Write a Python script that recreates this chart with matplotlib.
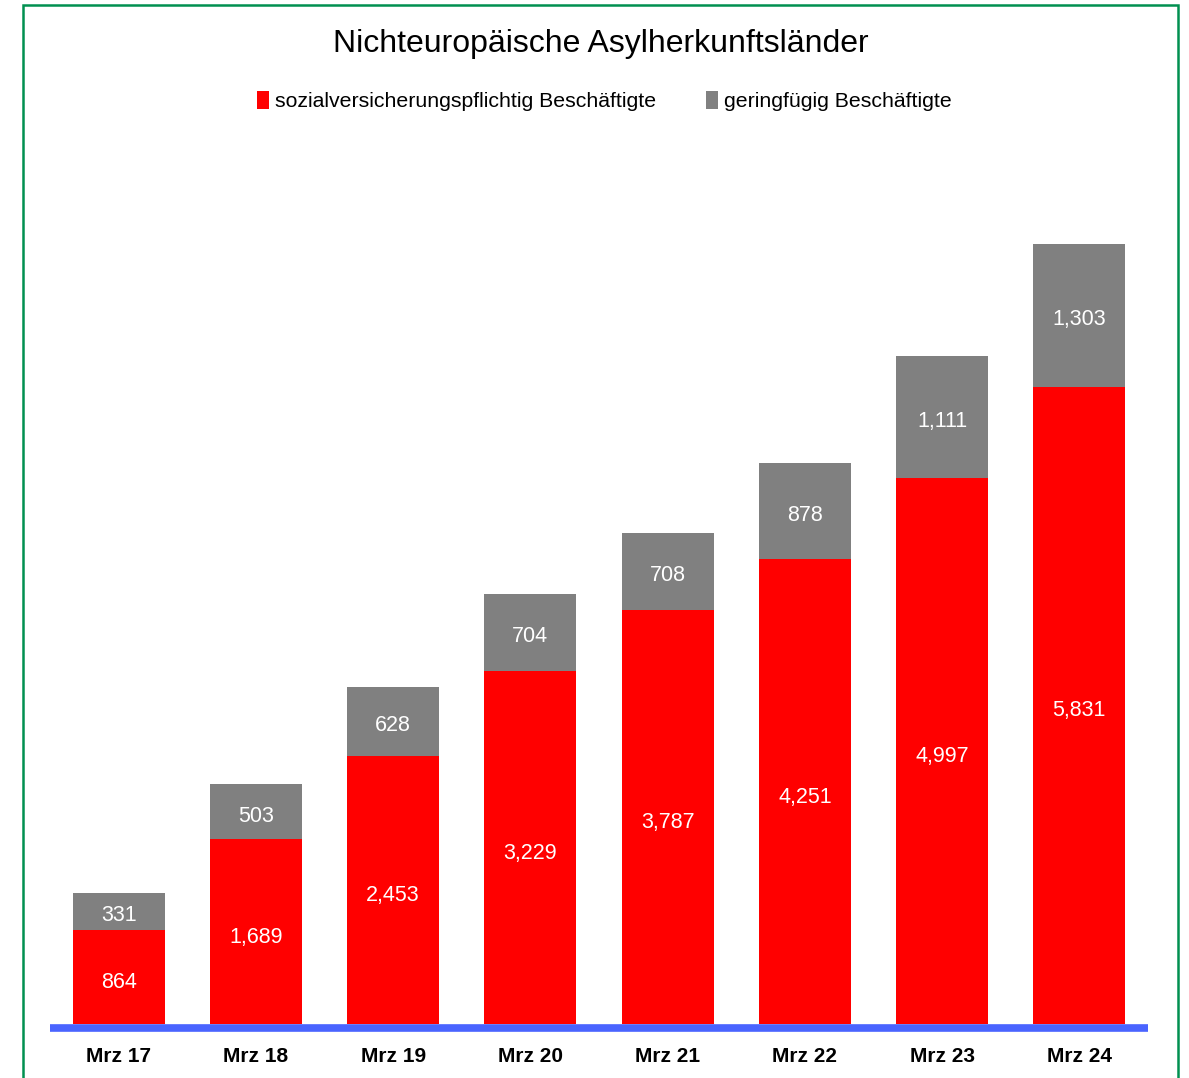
import numpy as np
import matplotlib.pyplot as plt
from matplotlib.patches import Rectangle

plt.rcParams['font.family'] = ['Liberation Sans', 'DejaVu Sans']

months = ["Mrz 17", "Mrz 18", "Mrz 19", "Mrz 20", "Mrz 21", "Mrz 22", "Mrz 23", "Mrz 24"]
svp = [864, 1689, 2453, 3229, 3787, 4251, 4997, 5831]
gering = [331, 503, 628, 704, 708, 878, 1111, 1303]

red = "#ff0000"
grey = "#808080"

fig = plt.figure(figsize=(11.89, 10.78), dpi=100)
ax = fig.add_axes([0.042, 0.0501, 0.9235, 0.811])

x = np.arange(len(months))
w = 0.67
b1 = ax.bar(x, svp, w, color=red, label="sozialversicherungspflichtig Beschäftigte", zorder=2)
b2 = ax.bar(x, gering, w, bottom=svp, color=grey, label="geringfügig Beschäftigte", zorder=2)

for i in range(len(months)):
    ax.annotate(f"{svp[i]:,}", (x[i], svp[i] / 2), xytext=(0, -4), textcoords="offset points",
                ha="center", va="center", color="white", fontsize=15.5)
    ax.annotate(f"{gering[i]:,}", (x[i], svp[i] + gering[i] / 2), xytext=(0, -3), textcoords="offset points",
                ha="center", va="center", color="white", fontsize=15.5)

for s in ["top", "right", "left"]:
    ax.spines[s].set_visible(False)
ax.spines["bottom"].set_position(("outward", 2.9))
ax.spines["bottom"].set_color("#4a64ff")
ax.spines["bottom"].set_linewidth(5.5)
ax.spines["bottom"].set_capstyle("butt")

ax.set_xlim(-0.5, len(months) - 0.5)
ax.set_ylim(0, 8000)
ax.set_xticks(x)
ax.set_xticklabels(months, fontsize=15, fontweight="bold")
ax.tick_params(axis="x", length=0, pad=14)
ax.set_yticks([])

fig.text(0.505, 0.959, "Nichteuropäische Asylherkunftsländer", ha="center", va="center", fontsize=23)
fig.legend(handles=[b1, b2], loc="center", bbox_to_anchor=(0.5084, 0.906), ncol=2, frameon=False,
           fontsize=15.3, handlelength=0.55, handleheight=0.9, handletextpad=0.3, columnspacing=2.35)

fig.add_artist(Rectangle((23 / 1189, -0.05), (1178 - 23) / 1189, 1.05 - 5 / 1078,
                         transform=fig.transFigure, fill=False, edgecolor="#009050", linewidth=1.8))

fig.savefig("out.png", dpi=100)
